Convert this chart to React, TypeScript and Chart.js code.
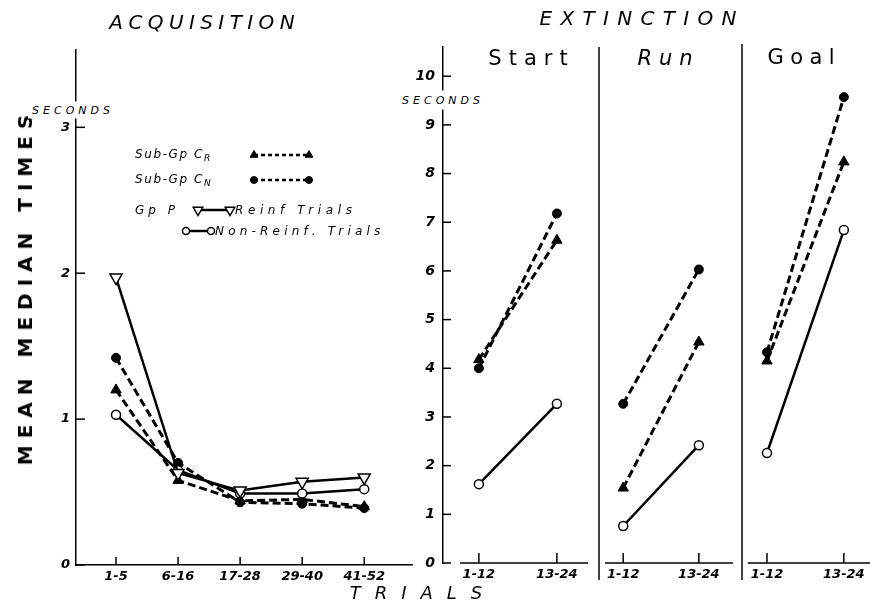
import React, { useEffect, useRef } from "react";
import { Chart, registerables } from "chart.js";
import { drawPoint } from "chart.js/helpers";

Chart.register(...registerables);

const FONT = "'DejaVu Sans', 'Liberation Sans', sans-serif";
const BLACK = "#000";

// ---------- Acquisition data ----------
const acqCategories = ["1-5", "6-16", "17-28", "29-40", "41-52"];
const acqYTicks = [0, 1, 2, 3];
const acqSubGpCR = [1.2, 0.58, 0.44, 0.45, 0.4];
const acqSubGpCN = [1.42, 0.7, 0.43, 0.42, 0.39];
const acqGpPReinf = [1.97, 0.63, 0.51, 0.57, 0.6];
const acqGpPNonReinf = [1.03, 0.65, 0.49, 0.49, 0.52];

// ---------- Extinction data ----------
const extCategories = ["1-12", "13-24"];
const extYTicks = [0, 1, 2, 3, 4, 5, 6, 7, 8, 9, 10];
const startSubGpCR = [4.18, 6.63];
const startSubGpCN = [4.0, 7.18];
const startGpPNonReinf = [1.62, 3.27];
const runSubGpCR = [1.54, 4.54];
const runSubGpCN = [3.27, 6.03];
const runGpPNonReinf = [0.76, 2.42];
const goalSubGpCR = [4.15, 8.24];
const goalSubGpCN = [4.33, 9.57];
const goalGpPNonReinf = [2.26, 6.84];

// ---------- Styles ----------
const DASH = [8, 4];
const styleCR = {
  borderColor: BLACK, borderWidth: 3, borderDash: DASH,
  pointStyle: "triangle", pointRadius: 6, pointBackgroundColor: BLACK,
  pointBorderColor: BLACK, pointBorderWidth: 1,
};
const styleCN = {
  borderColor: BLACK, borderWidth: 3, borderDash: DASH,
  pointStyle: "circle", pointRadius: 4.5, pointBackgroundColor: BLACK,
  pointBorderColor: BLACK, pointBorderWidth: 1,
};
const styleReinf = {
  borderColor: BLACK, borderWidth: 2.5, borderDash: [],
  pointStyle: "triangle", pointRotation: 180, pointRadius: 7,
  pointBackgroundColor: "#fff", pointBorderColor: BLACK, pointBorderWidth: 1.5,
};
const styleNonReinf = {
  borderColor: BLACK, borderWidth: 2.5, borderDash: [],
  pointStyle: "circle", pointRadius: 4.5,
  pointBackgroundColor: "#fff", pointBorderColor: BLACK, pointBorderWidth: 1.5,
};

function series(label: string, values: number[], style: any) {
  return {
    label,
    data: values.map((v, i) => ({ x: i, y: v })),
    ...style,
    fill: false,
    tension: 0,
    clip: false,
  };
}

const tickFont = { family: FONT, size: 13, weight: "bold" as const, style: "italic" as const };

function line(ctx: CanvasRenderingContext2D, x1: number, y1: number, x2: number, y2: number) {
  ctx.beginPath();
  ctx.moveTo(x1, y1);
  ctx.lineTo(x2, y2);
  ctx.stroke();
}

function makeDeco(o: {
  yTicks?: number[]; yTickLen?: number; nCat: number; xTickLen: number;
  baseline?: [number, number]; divider?: [number, number];
}) {
  return {
    id: "deco",
    beforeDatasetsDraw(chart: any) {
      const { ctx, chartArea: a } = chart;
      const xs = chart.scales.x;
      const ys = chart.scales.y;
      ctx.save();
      ctx.strokeStyle = BLACK;
      ctx.lineWidth = 1.5;
      ctx.setLineDash([]);
      if (o.yTicks && o.yTickLen) {
        o.yTicks.forEach((v) => {
          const py = ys.getPixelForValue(v);
          line(ctx, a.left, py, a.left + (o.yTickLen as number), py);
        });
      }
      for (let i = 0; i < o.nCat; i++) {
        const px = xs.getPixelForValue(i);
        line(ctx, px, a.bottom, px, a.bottom - o.xTickLen);
      }
      if (o.baseline) {
        line(ctx, xs.getPixelForValue(o.baseline[0]), a.bottom, xs.getPixelForValue(o.baseline[1]), a.bottom);
      }
      if (o.divider) {
        line(ctx, a.left, a.top - o.divider[0], a.left, a.bottom + o.divider[1]);
      }
      ctx.restore();
    },
  };
}

// legend samples (layout of the key, drawn with Chart.js point helper)
const legendSamples = [
  { x1: 254, x2: 309, y: 155, dash: [4, 3], style: styleCR, r: 4.5 },
  { x1: 254, x2: 309, y: 180, dash: [4, 3], style: styleCN, r: 3.5 },
  { x1: 198, x2: 230, y: 210, dash: [], style: styleReinf, r: 5.5 },
  { x1: 186, x2: 211, y: 231, dash: [], style: styleNonReinf, r: 3.5 },
];

const legendPlugin = {
  id: "sampleLegend",
  afterDatasetsDraw(chart: any) {
    const ctx: CanvasRenderingContext2D = chart.ctx;
    legendSamples.forEach((it) => {
      ctx.save();
      ctx.strokeStyle = BLACK;
      ctx.lineWidth = 2.5;
      ctx.setLineDash(it.dash);
      line(ctx, it.x1, it.y, it.x2, it.y);
      ctx.setLineDash([]);
      ctx.fillStyle = it.style.pointBackgroundColor;
      ctx.strokeStyle = BLACK;
      ctx.lineWidth = it.style.pointBorderWidth;
      [it.x1, it.x2].forEach((px) => {
        drawPoint(ctx, {
          pointStyle: it.style.pointStyle,
          radius: it.r,
          rotation: it.style.pointRotation || 0,
          borderWidth: it.style.pointBorderWidth,
        } as any, px, it.y);
      });
      ctx.restore();
    });
  },
};

function acquisitionConfig(): any {
  return {
    type: "line",
    data: {
      datasets: [
        series("Gp P Reinf Trials", acqGpPReinf, styleReinf),
        series("Gp P Non-Reinf. Trials", acqGpPNonReinf, styleNonReinf),
        series("Sub-Gp CN", acqSubGpCN, styleCN),
        series("Sub-Gp CR", acqSubGpCR, styleCR),
      ],
    },
    options: {
      responsive: false,
      animation: false,
      events: [],
      layout: { autoPadding: false, padding: { left: 0, top: 50, right: 8, bottom: 9 } },
      plugins: { legend: { display: false }, tooltip: { enabled: false } },
      scales: {
        x: {
          type: "linear", min: -0.645, max: 4.77,
          afterBuildTicks: (s: any) => { s.ticks = acqCategories.map((_, i) => ({ value: i })); },
          afterFit: (s: any) => { s.height = 30; },
          grid: { display: false, drawTicks: false },
          border: { display: true, color: BLACK, width: 1.5 },
          ticks: {
            autoSkip: false, maxRotation: 0, padding: 4, color: BLACK, font: tickFont,
            callback: (v: any) => acqCategories[v] ?? "",
          },
        },
        y: {
          type: "linear", min: 0, max: 3.53,
          afterBuildTicks: (s: any) => { s.ticks = acqYTicks.map((v) => ({ value: v })); },
          afterFit: (s: any) => { s.width = 76; },
          grid: { display: false, drawTicks: false },
          border: { display: true, color: BLACK, width: 1.5 },
          ticks: { padding: 6, color: BLACK, font: tickFont, callback: (v: any) => String(v) },
        },
      },
    },
    plugins: [
      makeDeco({ yTicks: acqYTicks, yTickLen: 9, nCat: acqCategories.length, xTickLen: 8 }),
      legendPlugin,
    ],
  };
}

function extinctionConfig(p: {
  cr: number[]; cn: number[]; non: number[]; showY: boolean; padLeft: number;
  min: number; max: number; baseline: [number, number]; divider?: [number, number];
}): any {
  return {
    type: "line",
    data: {
      datasets: [
        series("Gp P Non-Reinf. Trials", p.non, styleNonReinf),
        series("Sub-Gp CN", p.cn, styleCN),
        series("Sub-Gp CR", p.cr, styleCR),
      ],
    },
    options: {
      responsive: false,
      animation: false,
      events: [],
      layout: { autoPadding: false, padding: { left: p.padLeft, top: 47, right: 0, bottom: 11 } },
      plugins: { legend: { display: false }, tooltip: { enabled: false } },
      scales: {
        x: {
          type: "linear", min: p.min, max: p.max,
          afterBuildTicks: (s: any) => { s.ticks = extCategories.map((_, i) => ({ value: i })); },
          afterFit: (s: any) => { s.height = 30; },
          grid: { display: false, drawTicks: false },
          border: { display: false },
          ticks: {
            autoSkip: false, maxRotation: 0, padding: 4, color: BLACK, font: tickFont,
            callback: (v: any) => extCategories[v] ?? "",
          },
        },
        y: {
          type: "linear", min: 0, max: 10.6, display: p.showY,
          afterBuildTicks: (s: any) => { s.ticks = extYTicks.map((v) => ({ value: v })); },
          afterFit: (s: any) => { s.width = p.showY ? 43 : 0; },
          grid: { display: false, drawTicks: false },
          border: { display: true, color: BLACK, width: 1.5 },
          ticks: { padding: 8, color: BLACK, font: { ...tickFont, size: 14 }, callback: (v: any) => String(v) },
        },
      },
    },
    plugins: [
      makeDeco({
        yTicks: p.showY ? extYTicks : undefined, yTickLen: 8,
        nCat: extCategories.length, xTickLen: 10, baseline: p.baseline, divider: p.divider,
      }),
    ],
  };
}

function ChartCanvas({ left, width, build }: { left: number; width: number; build: () => any }) {
  const ref = useRef<HTMLCanvasElement>(null);
  useEffect(() => {
    const chart = new Chart(ref.current as HTMLCanvasElement, build());
    return () => chart.destroy();
  }, []);
  return (
    <canvas
      ref={ref}
      width={width}
      height={604}
      style={{ position: "absolute", left, top: 0, width, height: 604 }}
    />
  );
}

function Txt({ x, y, ls = 0, style, children, align = "center", rotate = 0 }: any) {
  const tx = align === "center" ? "-50%" : "0";
  return (
    <div
      style={{
        position: "absolute", left: x, top: y,
        transform: `translate(${tx}, -50%)${rotate ? ` rotate(${rotate}deg)` : ""}`,
        whiteSpace: "nowrap", lineHeight: 1, letterSpacing: ls,
        paddingLeft: align === "center" ? ls : 0, color: BLACK, fontFamily: FONT,
        ...style,
      }}
    >
      {children}
    </div>
  );
}

export default function App() {
  const legendFont = { fontSize: 12, fontStyle: "italic" };
  const sub = { fontSize: 9, verticalAlign: "-3px", letterSpacing: 0 };
  return (
    <div style={{ position: "fixed", left: 0, top: 0, width: 870, height: 604, background: "#fff", overflow: "hidden" }}>
      <ChartCanvas left={0} width={420} build={acquisitionConfig} />
      <ChartCanvas
        left={400}
        width={199}
        build={() => extinctionConfig({
          cr: startSubGpCR, cn: startSubGpCN, non: startGpPNonReinf, showY: true, padLeft: 0,
          min: -0.46, max: 1.54, baseline: [-0.24, 1.4],
        })}
      />
      <ChartCanvas
        left={594}
        width={148}
        build={() => extinctionConfig({
          cr: runSubGpCR, cn: runSubGpCN, non: runGpPNonReinf, showY: false, padLeft: 5,
          min: -0.32, max: 1.57, baseline: [-0.24, 1.45], divider: [0, 17],
        })}
      />
      <ChartCanvas
        left={737}
        width={133}
        build={() => extinctionConfig({
          cr: goalSubGpCR, cn: goalSubGpCN, non: goalGpPNonReinf, showY: false, padLeft: 5,
          min: -0.325, max: 1.34, baseline: [-0.25, 1.34], divider: [3, 17],
        })}
      />

      {/* titles */}
      <Txt x={202} y={22} ls={5.4} style={{ fontSize: 20, fontStyle: "italic" }}>ACQUISITION</Txt>
      <Txt x={638} y={18} ls={8.3} style={{ fontSize: 20, fontStyle: "italic" }}>EXTINCTION</Txt>
      <Txt x={528} y={58} ls={7} style={{ fontSize: 21 }}>Start</Txt>
      <Txt x={665} y={58} ls={7} style={{ fontSize: 21, fontStyle: "italic" }}>Run</Txt>
      <Txt x={801} y={57} ls={6.4} style={{ fontSize: 21 }}>Goal</Txt>
      <Txt x={416} y={593} ls={14} style={{ fontSize: 18, fontStyle: "italic" }}>TRIALS</Txt>
      <Txt x={25} y={290} ls={7} rotate={-90} style={{ fontSize: 20, fontWeight: "bold" }}>MEAN MEDIAN TIMES</Txt>
      <Txt x={71} y={110} ls={4} style={{ fontSize: 11, fontStyle: "italic", background: "#fff", padding: "3px 0 3px 4px" }}>SECONDS</Txt>
      <Txt x={441} y={100} ls={4} style={{ fontSize: 11, fontStyle: "italic", background: "#fff", padding: "4px 0 4px 4px" }}>SECONDS</Txt>

      {/* legend text */}
      <Txt x={135} y={155} ls={1.6} align="left" style={legendFont}>
        Sub-Gp C<span style={sub}>R</span>
      </Txt>
      <Txt x={135} y={180} ls={1.6} align="left" style={legendFont}>
        Sub-Gp C<span style={sub}>N</span>
      </Txt>
      <Txt x={135} y={210} ls={4} align="left" style={legendFont}>Gp  P</Txt>
      <Txt x={235} y={210} ls={4.6} align="left" style={{ ...legendFont, whiteSpace: "pre" }}>Reinf Trials</Txt>
      <Txt x={215} y={231} ls={4.2} align="left" style={{ ...legendFont, whiteSpace: "pre" }}>Non-Reinf. Trials</Txt>
    </div>
  );
}
